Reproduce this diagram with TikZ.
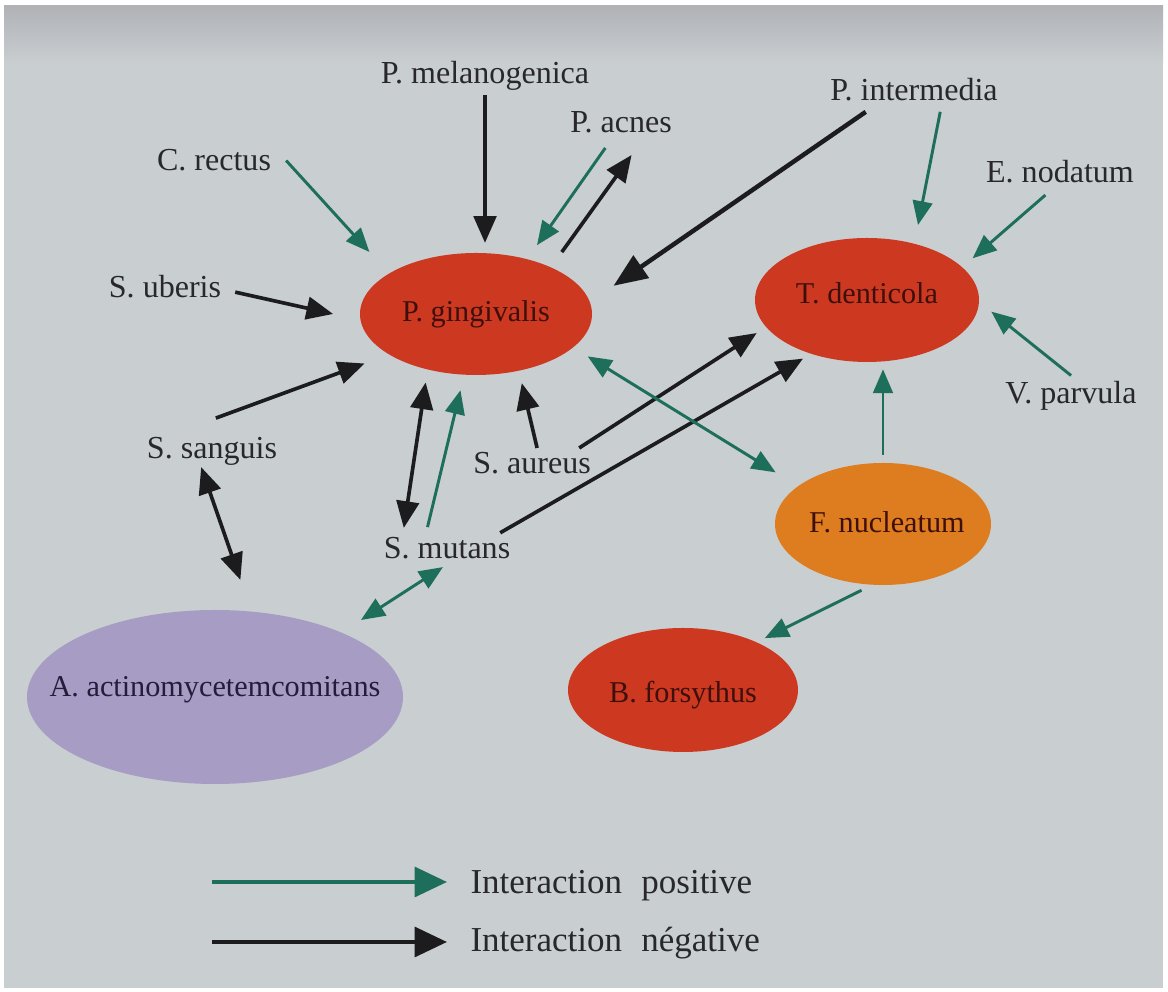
\documentclass[tikz,border=0pt]{standalone}
\usepackage{fontspec}
\setmainfont{Liberation Serif}
\usepackage{xcolor}
\usepackage{tikz}
\usetikzlibrary{arrows.meta,shapes.geometric}
\definecolor{bgmain}{RGB}{201,206,209}
\definecolor{bgtop}{RGB}{176,178,182}
\definecolor{gumred}{RGB}{205,56,33}
\definecolor{gumorange}{RGB}{222,124,32}
\definecolor{gumlilac}{RGB}{166,156,196}
\definecolor{posgreen}{RGB}{30,110,92}
\definecolor{negblack}{RGB}{28,28,30}
\definecolor{labelgray}{RGB}{40,40,42}
\definecolor{inred}{RGB}{62,16,12}
\definecolor{inlilac}{RGB}{36,28,58}

\begin{document}
\begin{tikzpicture}[line join=round,
  species/.style={ellipse,inner sep=0pt},
  spectext/.style={inner sep=0pt,font=\fontsize{21.5}{25}\selectfont,text=inred},
  bug/.style={inner xsep=3pt,inner ysep=1pt,text height=15.5pt,text depth=5pt,font=\fontsize{22.8}{27}\selectfont,text=labelgray},
  keytext/.style={anchor=west,inner sep=3pt,font=\fontsize{24.9}{29}\selectfont,text=labelgray},
  poslink/.style={draw=posgreen,line width=2.1pt,>={Triangle[length=17pt,width=14pt]}},
  neglink/.style={draw=negblack,line width=2.6pt,>={Triangle[length=19pt,width=16pt]}}]
  \fill[white] (0,0) rectangle (29.200,24.800);
  \fill[bgmain] (0.100,0.100) rectangle (29.075,24.650);
  \shade[top color=bgtop,bottom color=bgmain] (0.100,23.200) rectangle (29.075,24.650);
  \useasboundingbox (0,0) rectangle (29.200,24.800);
  \node[species,fill=gumred,minimum width=5.80cm,minimum height=3.05cm,label={[spectext]center:P. gingivalis}] (pging) at (11.900,16.950) {};
  \node[species,fill=gumred,minimum width=5.60cm,minimum height=3.10cm,label={[spectext,yshift=5pt]center:T. denticola}] (tden) at (21.675,17.300) {};
  \node[species,fill=gumorange,minimum width=5.40cm,minimum height=3.05cm,label={[spectext,xshift=2.8pt,yshift=1.4pt]center:F. nucleatum}] (fnuc) at (22.075,11.700) {};
  \node[species,fill=gumred,minimum width=5.75cm,minimum height=3.10cm,label={[spectext,yshift=-3.5pt]center:B. forsythus}] (bfor) at (17.075,7.550) {};
  \node[species,fill=gumlilac,minimum width=9.40cm,minimum height=4.35cm,label={[spectext,text=inlilac,yshift=5pt]center:A. actinomycetemcomitans}] (aact) at (5.375,7.375) {};
  \node[bug] (melano) at (12.125,22.900) {P. melanogenica};
  \node[bug] (acnes) at (15.525,21.675) {P. acnes};
  \node[bug] (interm) at (22.850,22.475) {P. intermedia};
  \node[bug] (crectus) at (5.350,20.725) {C. rectus};
  \node[bug] (enod) at (26.500,20.425) {E. nodatum};
  \node[bug] (uberis) at (4.125,17.550) {S. uberis};
  \node[bug] (vparv) at (26.775,14.900) {V. parvula};
  \node[bug] (sang) at (5.300,13.525) {S. sanguis};
  \node[bug] (aureus) at (13.300,13.150) {S. aureus};
  \node[bug] (mutans) at (11.175,11.025) {S. mutans};
  \draw[neglink,->,shorten <=2pt,shorten >=7pt] (melano.south) -- (melano.south |- pging.north);
  \draw[poslink,->,shorten <=11.3pt,shorten >=20.6pt] (crectus.13.8) -- (pging.155.8);
  \draw[poslink,->,shorten <=6pt,shorten >=12pt] (acnes.-124.7) -- (pging.47.1);
  \draw[neglink,->,shorten <=13.2pt,shorten >=12.2pt] (pging.32.4) -- (acnes.-38.8);
  \draw[neglink,line width=3.2pt,>={Triangle[length=24pt,width=19pt]},->,shorten <=3.5pt,shorten >=20.3pt] (interm.-160.3) -- (pging.6.4);
  \draw[neglink,->,shorten <=7pt,shorten >=19.8pt] (uberis.east) -- (pging.-177.7);
  \draw[neglink,->,shorten <=34.7pt,shorten >=18.4pt] (sang.159.6) -- (pging.-155.5);
  \draw[neglink,<->,shorten >=23.7pt] (sang.-124.5) -- (aact.67.2);
  \draw[neglink,<->,shorten <=9.2pt,shorten >=5pt] (pging.-131.6) -- (mutans.160.9);
  \draw[poslink,->,shorten <=5.7pt,shorten >=11.2pt] (mutans.143.8) -- (pging.-101.5);
  \draw[neglink,->,shorten <=1.4pt,shorten >=8.9pt] (aureus.71) -- (pging.-53.6);
  \draw[neglink,->,shorten <=2.5pt,shorten >=7.8pt] (aureus.20) -- (tden.-165);
  \draw[neglink,->,shorten <=3pt,shorten >=6.6pt] (mutans.18) -- (tden.-136.9);
  \draw[poslink,<->,shorten <=12pt,shorten >=18.6pt] (pging.-19.5) -- (fnuc.156.5);
  \draw[poslink,->,shorten <=2pt,shorten >=13.4pt] (interm.-31) -- (tden.50.7);
  \draw[poslink,->,shorten <=4.3pt,shorten >=9.6pt] (enod.-122.8) -- (tden.19.3);
  \draw[poslink,->,shorten <=5pt,shorten >=11pt] (vparv.71.7) -- (tden.-1.2);
  \draw[poslink,->,shorten <=5.7pt,shorten >=5pt] (fnuc.north) -- (fnuc.north |- tden.south);
  \draw[poslink,->,shorten <=8.5pt,shorten >=6.4pt] (fnuc.-100.5) -- (bfor.33.4);
  \draw[poslink,<->,shorten >=16.3pt] (mutans.-104) -- (aact.27.2);
  \coordinate (posstart) at (5.300,2.750);
  \coordinate (negstart) at (5.300,1.250);
  \node[keytext] (legpos) at (11.650,2.663) {Interaction\hspace{0.55em}positive};
  \node[keytext] (legneg) at (11.650,1.213) {Interaction\hspace{0.55em}négative};
  \draw[poslink,line width=3.2pt,>={Triangle[length=23pt,width=21pt]},->,shorten >=13.5pt] (posstart) -- (posstart -| legpos.west);
  \draw[neglink,line width=3.2pt,>={Triangle[length=23pt,width=21pt]},->,shorten >=13.5pt] (negstart) -- (negstart -| legneg.west);
\end{tikzpicture}
\end{document}
